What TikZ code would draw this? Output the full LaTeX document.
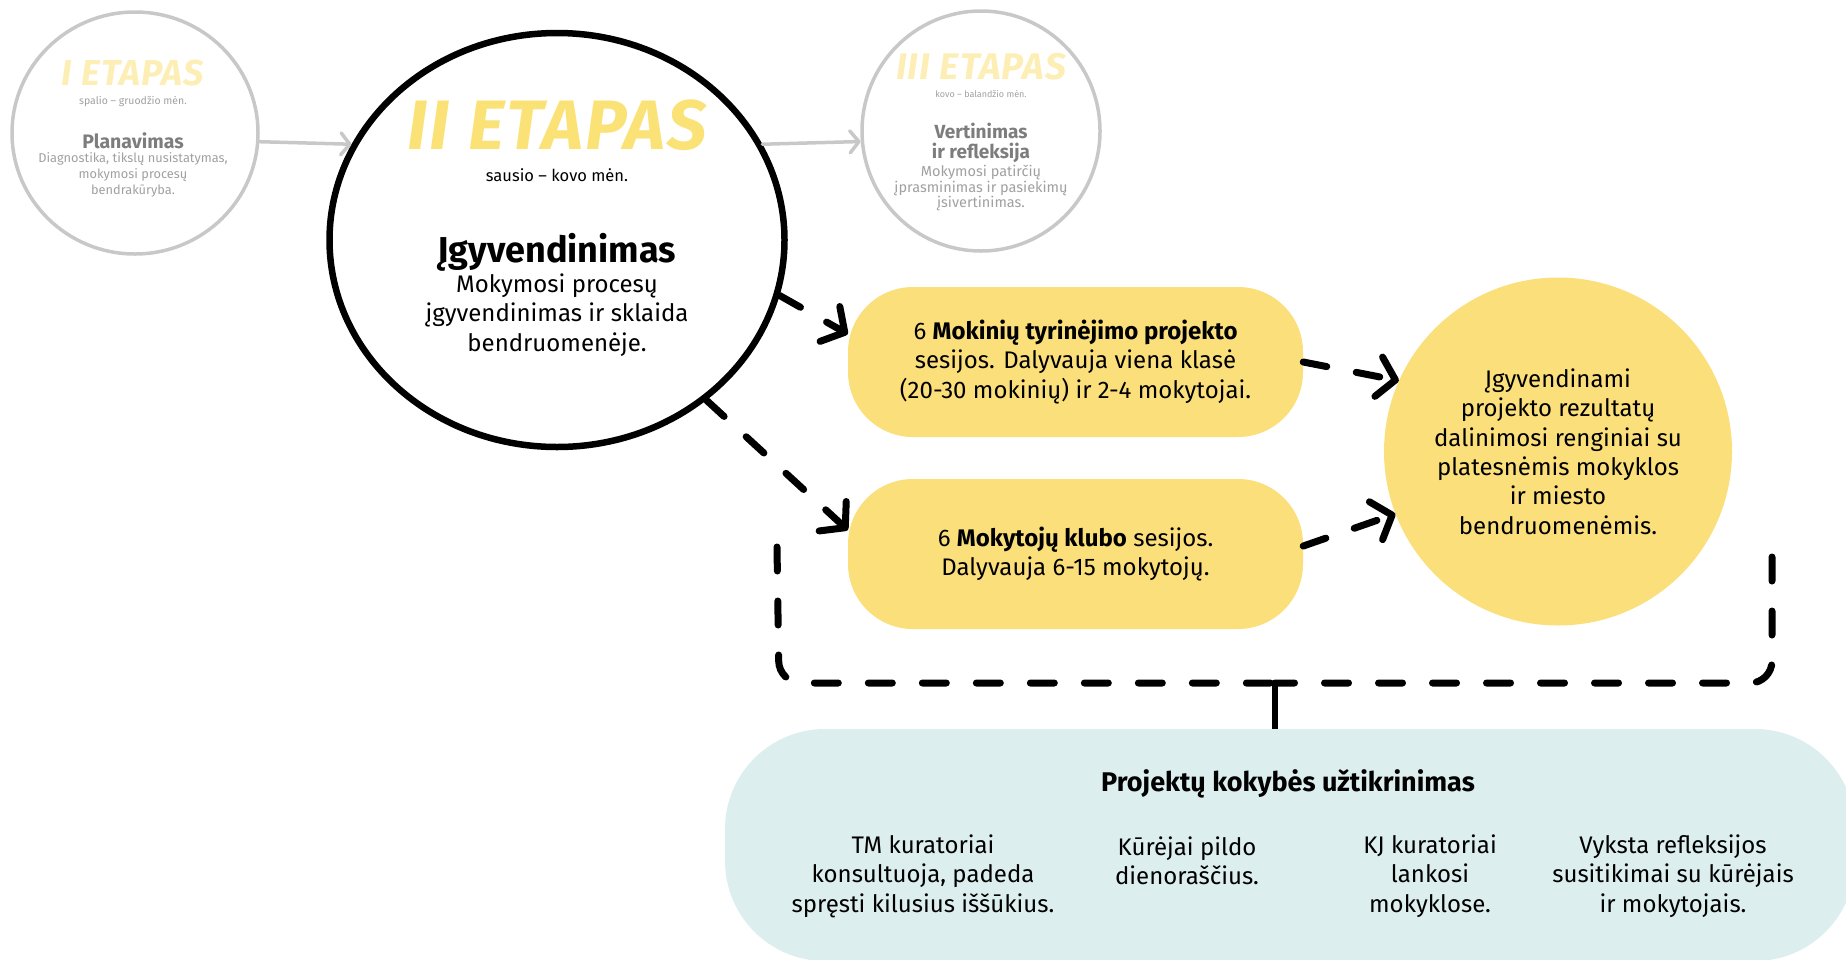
\documentclass[tikz,border=0pt]{standalone}
\usepackage{fontspec}
\setmainfont{Fira Sans}
\usetikzlibrary{arrows.meta, shapes.geometric}

\begin{document}
\begin{tikzpicture}[x=1pt, y=-1pt,
    stage/.style={ellipse, inner sep=0pt},
    session/.style={rectangle, rounded corners=65pt, fill=boxyellow, minimum width=455pt, minimum height=150pt, align=center, font=\fontsize{24}{29.4}\selectfont},
    body/.style={align=center, font=\fontsize{24}{29.4}\selectfont},
    etap/.style={inner sep=0pt},
    date/.style={inner sep=0pt},
    dashline/.style={line width=7pt, line cap=round, dash pattern=on 24pt off 30pt},
    dasharrow/.style={dashline, -{Straight Barb[length=17pt, width=40pt, round]}},
    greyarrow/.style={draw=fadegrey, line width=3.5pt, line cap=round, -{Straight Barb[length=9pt, width=22pt, round]}}]
    \useasboundingbox (0,0) rectangle (1846,959);
    % colours
    \definecolor{boxyellow}{RGB}{250,223,122}
    \definecolor{etapyellow}{RGB}{251,226,118}
    \definecolor{fadeyellow}{RGB}{252,238,180}
    \definecolor{fadegrey}{RGB}{200,200,200}
    \definecolor{headgrey}{RGB}{125,125,125}
    \definecolor{textgrey}{RGB}{160,160,160}
    \definecolor{qualityblue}{RGB}{221,238,238}
    % quality box
    \node[rectangle, rounded corners=100pt, fill=qualityblue, minimum width=1130pt, minimum height=232pt] (qbox) at (1290,845) {};
    \node[font=\fontsize{27}{30}\bfseries] (qtitle) at (1288,784) {Projektų kokybės užtikrinimas};
    \node[body] (qtm) at (923,876) {TM kuratoriai\\konsultuoja, padeda\\spręsti kilusius iššūkius.};
    \node[body] (qkur) at (1187,860.5) {Kūrėjai pildo\\dienoraščius.};
    \node[body] (qkj) at (1430,876) {KJ kuratoriai\\lankosi\\mokyklose.};
    \node[body] (qref) at (1673,876) {Vyksta refleksijos\\susitikimai su kūrėjais\\ir mokytojais.};
    % stage I
    \node[stage, draw=fadegrey, line width=3.5pt, minimum width=246pt, minimum height=242pt] (onec) at (135,133) {};
    \node[etap, text=fadeyellow, font=\fontsize{36}{36}\bfseries\itshape\addfontfeature{LetterSpace=3}] (oneetap) at (133,73) {I ETAPAS};
    \node[date, text=textgrey, font=\fontsize{10.5}{12}\selectfont] (onedate) at (133,101) {spalio – gruodžio mėn.};
    \node[text=headgrey, font=\fontsize{19.5}{22}\bfseries] (onehead) at (133,141) {Planavimas};
    \node[text=textgrey, align=center, font=\fontsize{12.8}{16}\selectfont] (onebody) at (133,175) {Diagnostika, tikslų nusistatymas,\\mokymosi procesų\\bendrakūryba.};
    % stage II
    \node[stage, draw=black, line width=6.5pt, minimum width=455pt, minimum height=414pt] (twoc) at (557,240) {};
    \node[etap, text=etapyellow, font=\fontsize{70}{70}\bfseries\itshape\addfontfeature{LetterSpace=3}] (twoetap) at (557,125) {II ETAPAS};
    \node[date, font=\fontsize{16.5}{18}\selectfont] (twodate) at (557,175) {sausio – kovo mėn.};
    \node[font=\fontsize{36}{40}\bfseries] (twohead) at (557,252) {Įgyvendinimas};
    \node[body] (twobody) at (557,315) {Mokymosi procesų\\įgyvendinimas ir sklaida\\bendruomenėje.};
    % stage III
    \node[stage, draw=fadegrey, line width=3.5pt, minimum width=238pt, minimum height=240pt] (threec) at (981,131) {};
    \node[etap, text=fadeyellow, font=\fontsize{37}{37}\bfseries\itshape\addfontfeature{LetterSpace=3}] (threeetap) at (981,67) {III ETAPAS};
    \node[date, text=textgrey, font=\fontsize{9}{10}\selectfont] (threedate) at (981,94) {kovo – balandžio mėn.};
    \node[text=headgrey, align=center, inner sep=1pt, font=\fontsize{19}{20.5}\bfseries] (threehead) at (981,143) {Vertinimas\\ir refleksija};
    \node[text=textgrey, align=center, inner sep=1pt, font=\fontsize{14.5}{15.3}\selectfont] (threebody) at (981,188) {Mokymosi patirčių\\įprasminimas ir pasiekimų\\įsivertinimas.};
    % sessions and results
    \node[session] (sessa) at (1075.5,362) {6 \textbf{Mokinių tyrinėjimo projekto}\\sesijos. Dalyvauja viena klasė\\(20-30 mokinių) ir 2-4 mokytojai.};
    \node[session] (sessb) at (1075.5,554) {6 \textbf{Mokytojų klubo} sesijos.\\Dalyvauja 6-15 mokytojų.};
    \node[circle, fill=boxyellow, minimum size=348pt, body] (resc) at (1558,451.5) {Įgyvendinami\\projekto rezultatų\\dalinimosi renginiai su\\platesnėmis mokyklos\\ir miesto\\bendruomenėmis.};
    % stage arrows
    \draw[greyarrow] (onec.-4) -- (twoc.155);
    \draw[greyarrow] (twoc.25) -- (threec.185);
    % dashed arrows
    \draw[dasharrow] (twoc.-14) -- (sessa.173);
    \draw[dasharrow] (twoc.-47) -- (sessb.174);
    \draw[dasharrow] (sessa.east) -- (resc.156);
    \draw[dasharrow] (sessb.2) -- (resc.201);
    % bracket
    \coordinate (brl) at (777,547);
    \coordinate (brbl) at (779,683);
    \coordinate (brbr) at (1772,683);
    \coordinate (brr) at (1772,557);
    \coordinate (brmid) at (1275,683);
    \draw[dashline, rounded corners=22pt] (brl) -- (brbl) -- (brmid);
    \draw[dashline, rounded corners=22pt] (brr) -- (brbr) -- (brmid);
    \draw[line width=6pt] (brmid) -- (brmid |- qbox.north) ++(0,-11);
\end{tikzpicture}
\end{document}
